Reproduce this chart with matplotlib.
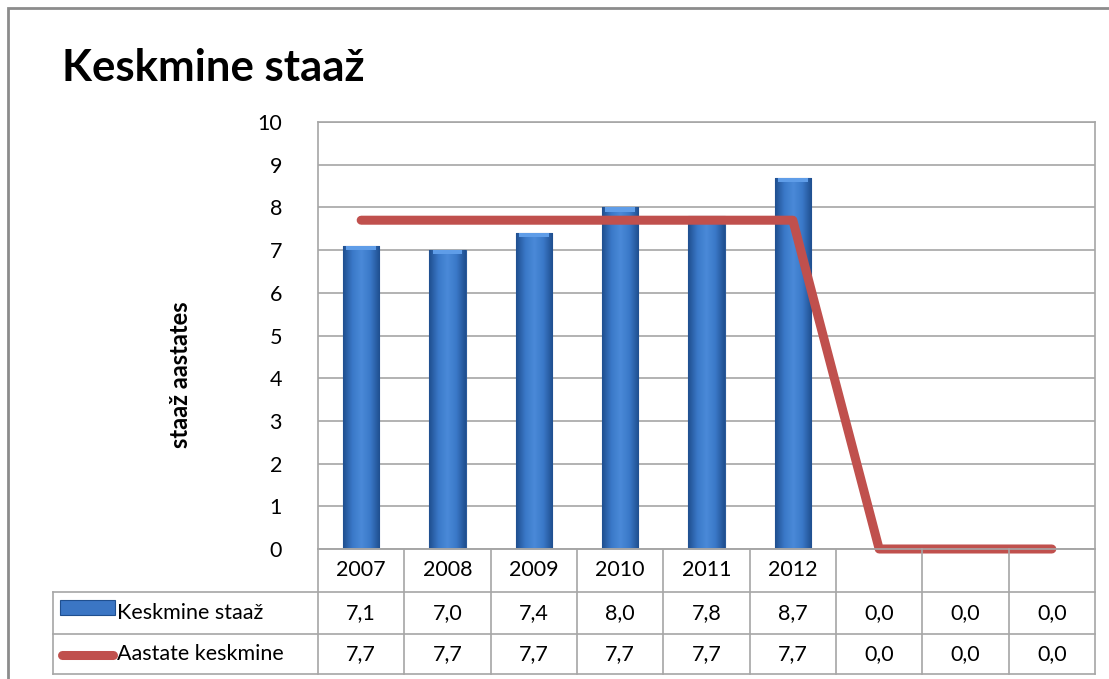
import numpy as np
import matplotlib.pyplot as plt
from matplotlib.patches import Rectangle
from matplotlib.lines import Line2D
from matplotlib.colors import LinearSegmentedColormap

plt.rcParams['font.family'] = ['Lato', 'DejaVu Sans']

# ---- data ----
categories = ['2007', '2008', '2009', '2010', '2011', '2012', '', '', '']
staaz = [7.1, 7.0, 7.4, 8.0, 7.8, 8.7, 0.0, 0.0, 0.0]
aastate_keskmine = [7.7, 7.7, 7.7, 7.7, 7.7, 7.7, 0.0, 0.0, 0.0]
series_names = ['Keskmine staaž', 'Aastate keskmine']
yticks = [0, 1, 2, 3, 4, 5, 6, 7, 8, 9, 10]

W, H = 1109, 679
def fx(px):
    return px / W
def fy(py):
    return 1 - py / H

grid_col = '#a6a6a6'
red = '#c0504d'
fs = 15.5

fig = plt.figure(figsize=(W / 100, H / 100), dpi=100)

# ---- main plot ----
L, R, T, B = 318, 1095, 122, 549
ax = fig.add_axes([fx(L), fy(B), fx(R) - fx(L), fy(T) - fy(B)])
x = np.arange(len(categories))
ax.set_xlim(-0.5, len(categories) - 0.5)
ax.set_ylim(0, 10)
ax.set_yticks(yticks)
ax.set_yticklabels([str(t) for t in yticks], fontsize=fs)
ax.set_xticks([])
ax.tick_params(axis='y', length=0, pad=26)
ax.yaxis.grid(True, color=grid_col, lw=1.2)
ax.set_axisbelow(True)
for s in ax.spines.values():
    s.set_color(grid_col)
    s.set_linewidth(1.2)

bars = ax.bar(x, staaz, width=0.42, color='#3b76c4', edgecolor='#2a5a9a', lw=0.8, zorder=2)
cmap = LinearSegmentedColormap.from_list('bev', ['#1f4f8f', '#3a78c8', '#4a8ad8', '#3a78c8', '#1f4f8f'])
grad = np.linspace(0, 1, 64).reshape(1, -1)
for b in bars:
    h = b.get_height()
    if h <= 0:
        continue
    x0 = b.get_x()
    im = ax.imshow(grad, cmap=cmap, aspect='auto', extent=(x0, x0 + b.get_width(), 0, h),
                   zorder=2.5, interpolation='bicubic')
    im.set_clip_path(b)
    # light top bevel
    ax.add_patch(Rectangle((x0 + 0.04, h - 0.1), b.get_width() - 0.08, 0.1,
                           color='#5f9de8', zorder=2.6, lw=0))

ax.plot(x, aastate_keskmine, color=red, lw=6.5, solid_capstyle='round',
        solid_joinstyle='round', zorder=3, clip_on=False)

# ---- data table ----
TL, TB = 53, 674
rows = [549, 592, 634, 674]
tax = fig.add_axes([fx(TL), fy(TB), fx(R) - fx(TL), fy(B) - fy(TB)])
def tx(px):
    return -0.5 + (px - L) * len(categories) / (R - L)
tax.set_xlim(tx(TL), len(categories) - 0.5)
tax.set_ylim(TB, B)
tax.axis('off')

lk = dict(color=grid_col, lw=1.2, clip_on=False)
tax.add_line(Line2D([-0.5, 8.5], [rows[0], rows[0]], **lk))
for yy in rows[1:]:
    tax.add_line(Line2D([tx(TL), 8.5], [yy, yy], **lk))
for i in range(len(categories) + 1):
    tax.add_line(Line2D([i - 0.5, i - 0.5], [rows[0], rows[3]], **lk))
tax.add_line(Line2D([tx(TL), tx(TL)], [rows[1], rows[3]], **lk))

for i, c in enumerate(categories):
    tax.text(i, (rows[0] + rows[1]) / 2, c, ha='center', va='center', fontsize=fs)
for r, vals in enumerate([staaz, aastate_keskmine]):
    yc = (rows[r + 1] + rows[r + 2]) / 2
    for i, v in enumerate(vals):
        tax.text(i, yc, f'{v:.1f}'.replace('.', ','), ha='center', va='center', fontsize=fs)
    tax.text(tx(117), yc, series_names[r], ha='left', va='center', fontsize=fs)

# legend keys
key = Rectangle((tx(60), 600), tx(115) - tx(60), 15, facecolor='#3b76c4', edgecolor='#1f4f8f', lw=0.8)
tax.add_patch(key)
tax.add_line(Line2D([tx(62), tx(113)], [655, 655], color=red, lw=6.5, solid_capstyle='round'))

# ---- titles ----
fig.text(fx(62), fy(68), 'Keskmine staaž', fontsize=31.5, fontweight='bold', ha='left', va='center')
fig.text(fx(180), fy(375), 'staaž aastates', rotation=90, fontsize=17, fontweight='bold',
         ha='center', va='center')

# chart frame
fig.add_artist(Rectangle((fx(8), -0.1), 1.2, fy(8) + 0.1, fill=False, edgecolor='#8c8c8c',
                         lw=2, transform=fig.transFigure))

fig.savefig('out.png', dpi=100)
